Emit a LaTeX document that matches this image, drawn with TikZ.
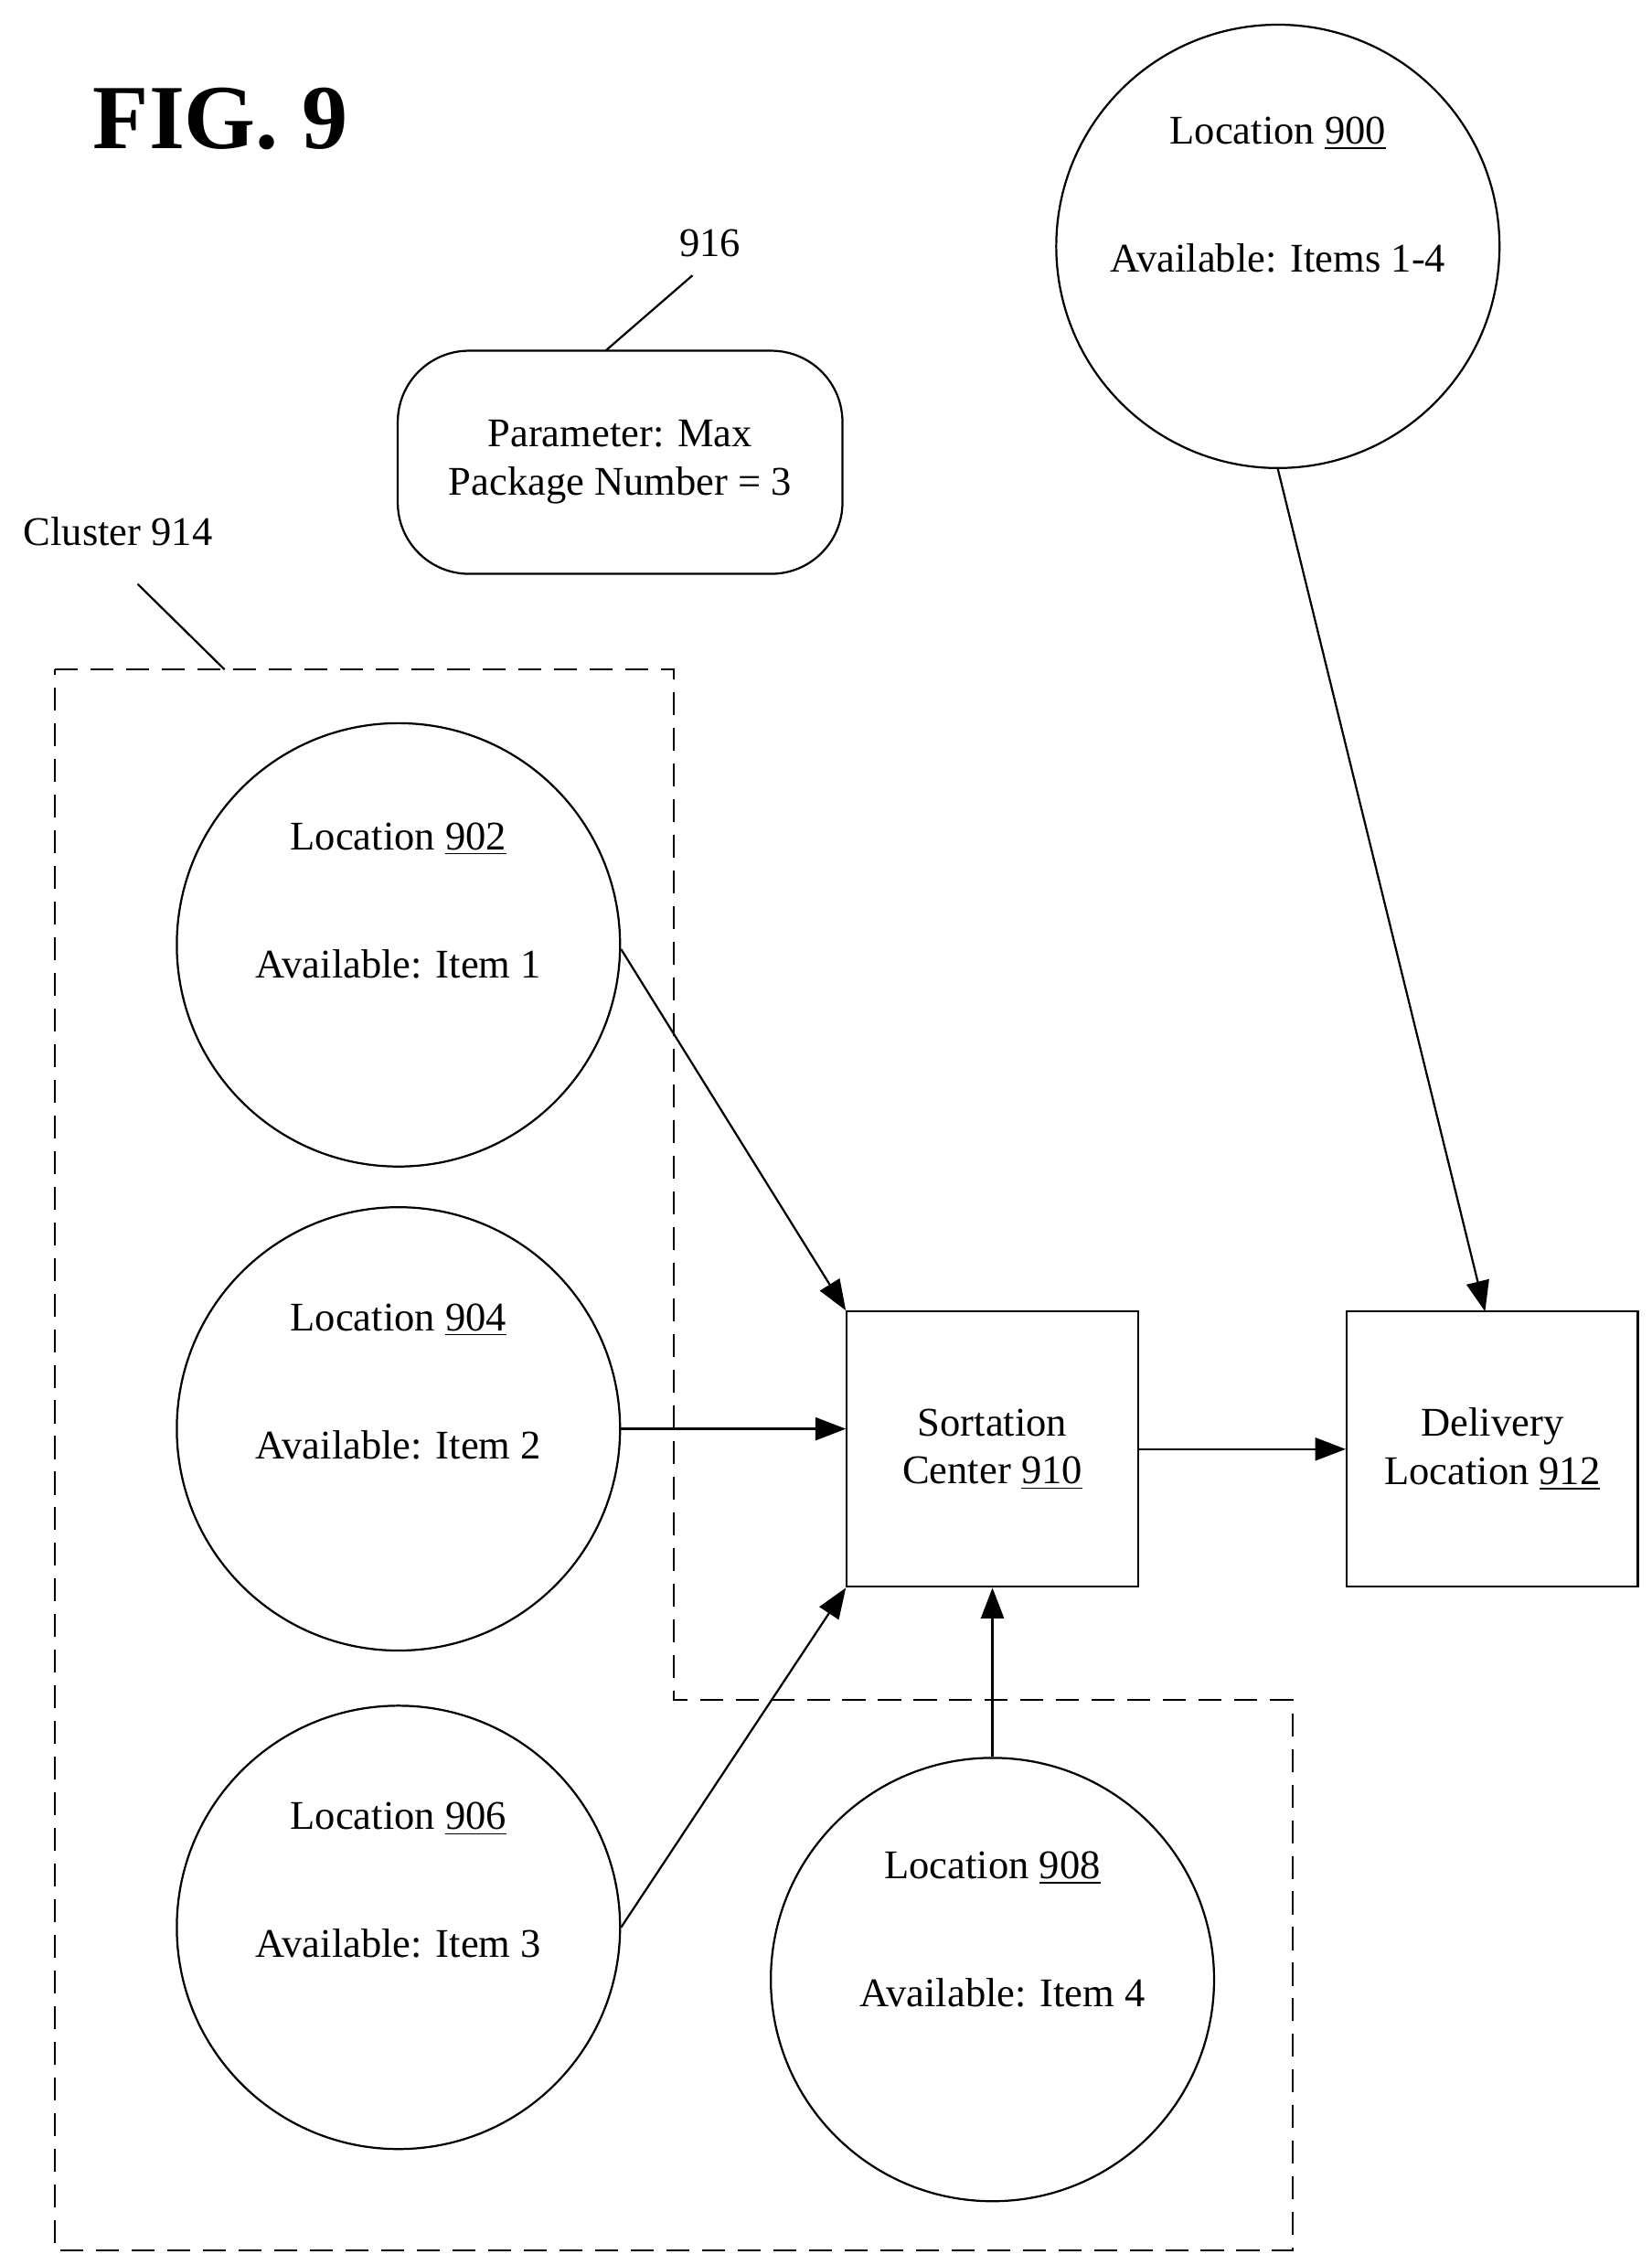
\documentclass[tikz,border=0pt]{standalone}
\usepackage{fontspec}
\setmainfont{Liberation Serif}
\usetikzlibrary{arrows.meta}
\begin{document}
\begin{tikzpicture}[x=0.02cm,y=-0.02cm,
  loc/.style={circle,draw,line width=0.8pt,minimum size=6.12cm,inner sep=0pt},
  box/.style={draw,line width=0.8pt,minimum width=4.02cm,minimum height=3.8cm,align=center,font=\fontsize{16}{19}\selectfont},
  arr/.style={-{Triangle[length=12pt,width=9pt]},line width=0.8pt},
  txt/.style={font=\fontsize{16}{19}\selectfont}]
\useasboundingbox (0,0) rectangle (1140,1563);
\node[font=\bfseries\fontsize{36}{40}\selectfont,anchor=west] (fig) at (58,82) {FIG. 9};
% circles
\node[loc] (c900) at (882,170) {};
\node[txt] (t900a) at (882,92) {Location \underline{900}};
\node[txt] (t900b) at (882,178) {Available: Items 1-4};
\node[loc] (c902) at (275,652) {};
\node[txt] (t902a) at (275,579) {Location \underline{902}};
\node[txt] (t902b) at (275,665) {Available: Item 1};
\node[loc] (c904) at (275,986) {};
\node[txt] (t904a) at (275,911) {Location \underline{904}};
\node[txt] (t904b) at (275,997) {Available: Item 2};
\node[loc] (c906) at (275,1330) {};
\node[txt] (t906a) at (275,1255) {Location \underline{906}};
\node[txt] (t906b) at (275,1341) {Available: Item 3};
\node[loc] (c908) at (685,1366) {};
\node[txt] (t908a) at (685,1289) {Location \underline{908}};
\node[txt] (t908b) at (692,1375) {Available: Item 4};
% boxes
\node[box] (s910) at (685,1000) {Sortation\\Center \underline{910}};
\node[box] (d912) at (1030,1000) {Delivery\\Location \underline{912}};
\node[draw,line width=0.8pt,rounded corners=28pt,minimum width=6.14cm,minimum height=3.08cm,align=center,txt] (p916) at (428,319) {Parameter: Max\\Package Number = 3};
\node[txt] (l916) at (490,168) {916};
\coordinate (a916) at (478,190);
\draw[line width=0.8pt] (a916) -- (418,242);
\node[txt,anchor=west] (l914) at (10,367) {Cluster 914};
\coordinate (a914) at (95,403);
\coordinate (b914) at (155,462);
\draw[line width=0.8pt] (a914) -- (b914);
\draw[dashed,dash pattern=on 9pt off 5pt,line width=0.8pt] (38,462) -- (465,462) -- (465,1173) -- (892,1173) -- (892,1553) -- (38,1553) -- cycle;
% arrows
\draw[arr] (c902.east) ++(0,3) -- (s910.north west);
\draw[arr] (c904.east) -- (c904.east -| s910.west);
\draw[arr] (c906.east) -- (s910.south west);
\draw[arr] (c908.north) -- (s910.south);
\draw[arr] (s910.east) -- (d912.west);
\draw[arr] (c900.south) -- (1025,905);
\end{tikzpicture}
\end{document}
